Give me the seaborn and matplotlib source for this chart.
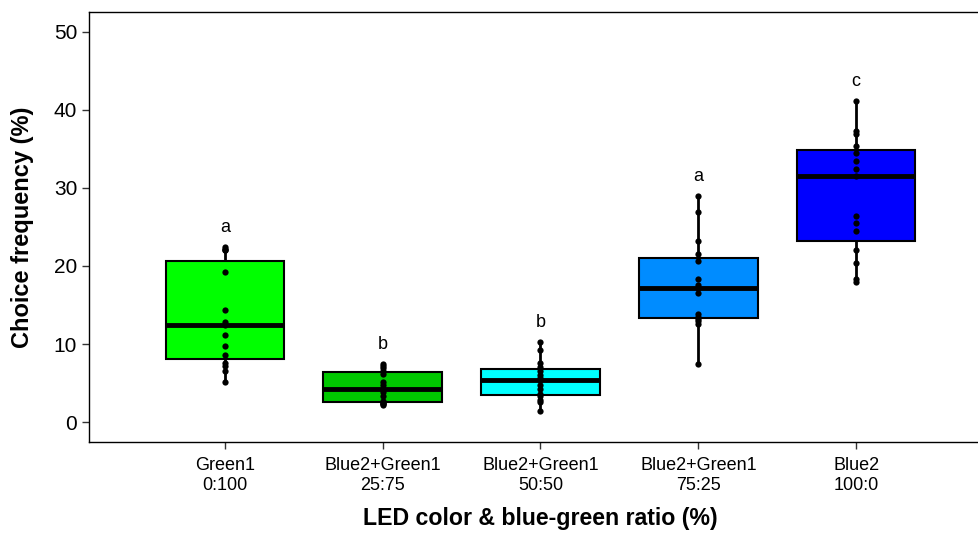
import pandas as pd
import numpy as np
import seaborn as sns
import matplotlib.pyplot as plt

# --- data (15 values per treatment) ---
groups = ['Green1\n0:100', 'Blue2+Green1\n25:75', 'Blue2+Green1\n50:50',
          'Blue2+Green1\n75:25', 'Blue2\n100:0']
green1 = [5.1, 6.6, 7.2, 7.6, 8.6, 9.7, 11.1, 12.5, 12.8, 14.4, 19.2, 22.0, 22.1, 22.2, 22.4]
mix_25 = [2.2, 2.3, 2.4, 2.5, 2.7, 3.3, 3.9, 4.3, 4.7, 5.2, 6.2, 6.6, 6.9, 7.2, 7.5]
mix_50 = [1.4, 2.6, 2.9, 3.3, 3.6, 4.3, 4.8, 5.4, 5.7, 6.1, 6.6, 7.1, 7.6, 9.3, 10.3]
mix_75 = [7.4, 12.6, 13.0, 13.2, 13.4, 13.8, 16.5, 17.2, 17.6, 18.3, 20.6, 21.5, 23.2, 26.9, 29.0]
blue2 = [17.9, 18.3, 20.4, 22.0, 24.5, 25.5, 26.4, 31.5, 32.4, 33.4, 34.4, 35.4, 36.9, 37.3, 41.1]
letters = ['a', 'b', 'b', 'a', 'c']
colors = ['#00FF00', '#00C800', '#00FFFF', '#008CFF', '#0000FF']

values = [green1, mix_25, mix_50, mix_75, blue2]
df = pd.DataFrame({'group': np.repeat(groups, [len(v) for v in values]),
                   'freq': np.concatenate(values)})

plt.rcParams['font.family'] = ['Liberation Sans', 'DejaVu Sans']

fig = plt.figure(figsize=(9.79, 5.36), dpi=100)
ax = fig.add_axes([89 / 979, (536 - 441.7) / 536, (992 - 89) / 979, (441.7 - 12) / 536])

sns.boxplot(data=df, x='group', y='freq', hue='group', palette=colors, legend=False,
            order=groups, width=0.75, saturation=1, showfliers=False, showcaps=False,
            linewidth=1.5, linecolor='black',
            medianprops={'linewidth': 3.5, 'color': 'black'},
            whiskerprops={'linewidth': 2, 'color': 'black'},
            boxprops={'edgecolor': 'black'}, ax=ax)
sns.stripplot(data=df, x='group', y='freq', order=groups, jitter=False,
              color='black', size=4.5, ax=ax, zorder=5)

# significance letters just above each whisker
for i, (vals, lab) in enumerate(zip(values, letters)):
    ax.text(i, max(vals) + 2.5, lab, ha='center', va='center', fontsize=13)

ax.set_ylim(-2.5, 52.5)
ax.set_xlim(-0.86, 4.86)
ax.set_yticks([0, 10, 20, 30, 40, 50])
ax.tick_params(axis='y', labelsize=15, length=5, width=1, color='#333333')
ax.tick_params(axis='x', labelsize=13, length=5, width=1, color='#333333', pad=6)
ax.set_ylabel('Choice frequency (%)', fontsize=17, fontweight='bold', labelpad=14)
ax.set_xlabel('LED color & blue-green ratio (%)', fontsize=16.7, fontweight='bold', labelpad=10)
for s in ax.spines.values():
    s.set_linewidth(1)
    s.set_color('black')

fig.savefig('out.png', dpi=100)
